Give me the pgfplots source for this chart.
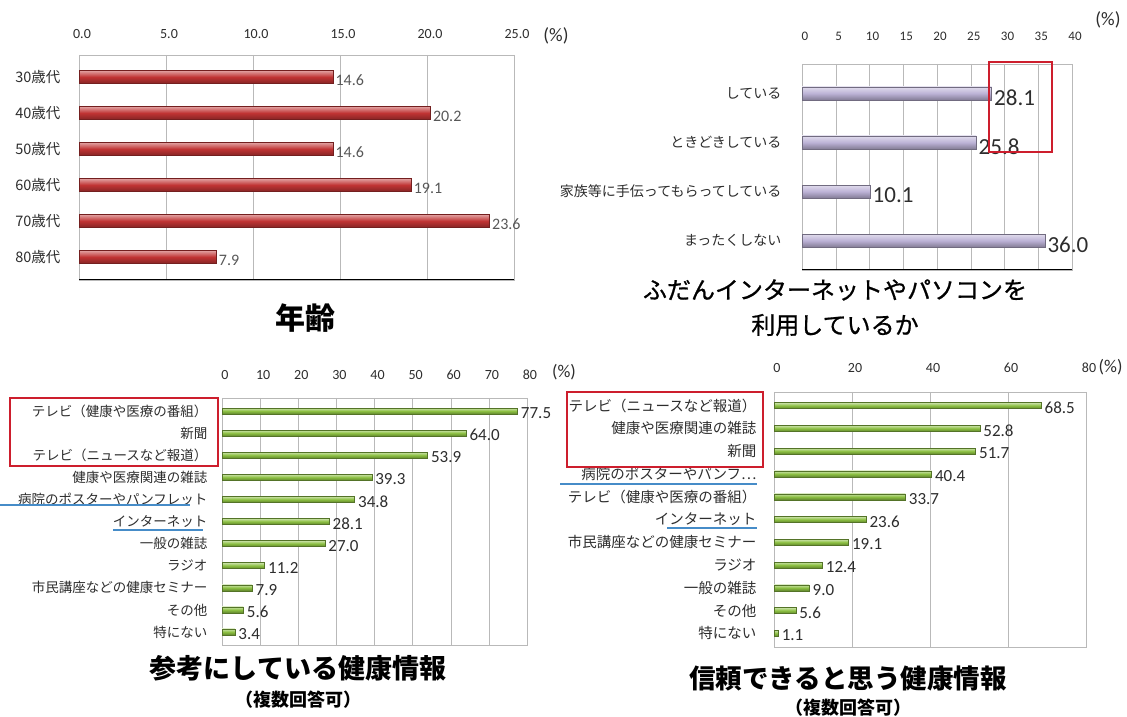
\documentclass[border=0pt]{standalone}
\usepackage{fontspec}
\setmainfont{Noto Sans CJK JP}
\newfontfamily\num{Carlito}
\newfontfamily\cjkmed[FakeBold=0.8]{Noto Sans CJK JP}
\usepackage{pgfplots}
\pgfplotsset{compat=1.18}

\definecolor{redbar}{RGB}{192,52,52}
\definecolor{lavbar}{RGB}{188,178,214}
\definecolor{grnbar}{RGB}{140,192,66}
\definecolor{boxred}{RGB}{205,30,45}
\definecolor{lineblue}{RGB}{70,140,200}
\definecolor{txt}{RGB}{45,45,45}

\newcommand{\cylbar}[3]{\addplot[draw=#1!60!black, top color=#1!45!white, bottom color=#1!70!black, middle color=#1] coordinates {(#2,#3)};}

\pgfplotsset{
  hb/.style={
    xbar, scale only axis, y dir=reverse, anchor=south west,
    bar shift=0pt,
    axis line style={gray!55},
    xmajorgrids, grid style={gray!55},
    xticklabel pos=top,
    major tick length=0pt,
    /pgf/number format/assume math mode=true,
    point meta=x,
    tick label style={text=txt},
  }
}

\begin{document}
\begin{tikzpicture}
\useasboundingbox (0,0) rectangle (1127pt,717pt);

% ---------- Panel 1: age ----------
\begin{axis}[hb, at={(79pt,437pt)}, width=435pt, height=225pt,
  xmin=0, xmax=25, ymin=-0.61, ymax=5.64,
  xtick={0,5,...,25},
  xticklabel style={font=\num\fontsize{14}{14}\selectfont, yshift=13pt, xshift=3pt,
    /pgf/number format/.cd, fixed, fixed zerofill, precision=1},
  ytick={0,...,5},
  yticklabels={30歳代,40歳代,50歳代,60歳代,70歳代,80歳代},
  yticklabel style={font=\fontsize{14.5}{14.5}\selectfont, xshift=-15pt},
  bar width=13pt,
  nodes near coords={\pgfmathprintnumber[fixed,fixed zerofill,precision=1]{\pgfplotspointmeta}},
  nodes near coords style={font=\num\fontsize{16}{16}\selectfont, text=txt!80, yshift=-3pt, xshift=-1pt},
]
\cylbar{redbar}{14.6}{0}
\cylbar{redbar}{20.2}{1}
\cylbar{redbar}{14.6}{2}
\cylbar{redbar}{19.1}{3}
\cylbar{redbar}{23.6}{4}
\cylbar{redbar}{7.9}{5}
\draw[black, line width=1.2pt] (axis cs:0,5.64) -- (axis cs:25,5.64);
\end{axis}
\node[font=\num\fontsize{19}{19}\selectfont, text=txt] at (556pt,681pt) {(\%)};
\node[font=\bfseries\fontsize{30}{30}\selectfont, text=black] at (305pt,399pt) {年齢};

% ---------- Panel 2: internet use ----------
\begin{axis}[hb, at={(802pt,447pt)}, width=270pt, height=206pt,
  xmin=0, xmax=40, ymin=-0.6, ymax=3.6,
  xtick={0,5,...,40},
  xticklabel style={font=\num\fontsize{13}{13}\selectfont, yshift=20pt, xshift=3pt},
  ytick={0,...,3},
  yticklabels={している,ときどきしている,家族等に手伝ってもらってしている,まったくしない},
  yticklabel style={font=\fontsize{14}{14}\selectfont, xshift=-17pt},
  bar width=13pt,
  nodes near coords={\pgfmathprintnumber[fixed,fixed zerofill,precision=1]{\pgfplotspointmeta}},
  nodes near coords style={font=\num\fontsize{23}{23}\selectfont, text=txt, yshift=-4pt, xshift=-1pt},
]
\cylbar{lavbar}{28.1}{0}
\cylbar{lavbar}{25.8}{1}
\cylbar{lavbar}{10.1}{2}
\cylbar{lavbar}{36.0}{3}
\draw[black, line width=1pt] (axis cs:0,3.6) -- (axis cs:40,3.6);
\end{axis}
\node[font=\num\fontsize{19}{19}\selectfont, text=txt] at (1108pt,697pt) {(\%)};
\draw[boxred, line width=2pt] (989pt,655pt) rectangle (1052pt,565pt);
\node[font=\cjkmed\fontsize{24}{24}\selectfont, text=black] at (835pt,427pt) {ふだんインターネットやパソコンを};
\node[font=\cjkmed\fontsize{24}{24}\selectfont, text=black] at (835pt,392pt) {利用しているか};

% ---------- Panel 3: referenced health info ----------
\begin{axis}[hb, at={(222pt,72pt)}, width=305pt, height=247pt,
  xmin=0, xmax=80, ymin=-0.59, ymax=10.59,
  xtick={0,10,...,80},
  xticklabel style={font=\num\fontsize{14}{14}\selectfont, yshift=15pt, xshift=3pt},
  ytick={0,...,10},
  yticklabels={テレビ（健康や医療の番組）,新聞,テレビ（ニュースなど報道）,健康や医療関連の雑誌,病院のポスターやパンフレット,インターネット,一般の雑誌,ラジオ,市民講座などの健康セミナー,その他,特にない},
  yticklabel style={font=\fontsize{13.5}{13.5}\selectfont, xshift=-11pt},
  bar width=6pt,
  nodes near coords={\pgfmathprintnumber[fixed,fixed zerofill,precision=1]{\pgfplotspointmeta}},
  nodes near coords style={font=\num\fontsize{17}{17}\selectfont, text=txt, yshift=-2pt},
]
\cylbar{grnbar}{77.5}{0}
\cylbar{grnbar}{64.0}{1}
\cylbar{grnbar}{53.9}{2}
\cylbar{grnbar}{39.3}{3}
\cylbar{grnbar}{34.8}{4}
\cylbar{grnbar}{28.1}{5}
\cylbar{grnbar}{27.0}{6}
\cylbar{grnbar}{11.2}{7}
\cylbar{grnbar}{7.9}{8}
\cylbar{grnbar}{5.6}{9}
\cylbar{grnbar}{3.4}{10}
\end{axis}
\node[font=\num\fontsize{18}{18}\selectfont, text=txt] at (564pt,345pt) {(\%)};
\draw[boxred, line width=2pt] (10pt,319pt) rectangle (218pt,251pt);
\draw[lineblue, line width=2pt] (0pt,212pt) -- (190pt,212pt);
\draw[lineblue, line width=2pt] (113pt,187pt) -- (203pt,187pt);
\node[font=\bfseries\fontsize{27}{27}\selectfont, text=black] at (298pt,49pt) {参考にしている健康情報};
\node[font=\bfseries\fontsize{18}{18}\selectfont, text=black] at (298pt,17pt) {（複数回答可）};

% ---------- Panel 4: trusted health info ----------
\begin{axis}[hb, at={(774pt,70pt)}, width=312pt, height=255pt,
  xmin=0, xmax=80, ymin=-0.6, ymax=10.6,
  xtick={0,20,...,80},
  xticklabel style={font=\num\fontsize{14}{14}\selectfont, yshift=16pt, xshift=3pt},
  ytick={0,...,10},
  yticklabels={テレビ（ニュースなど報道）,健康や医療関連の雑誌,新聞,病院のポスターやパンフ…,テレビ（健康や医療の番組）,インターネット,市民講座などの健康セミナー,ラジオ,一般の雑誌,その他,特にない},
  yticklabel style={font=\fontsize{14.5}{14.5}\selectfont, xshift=-14pt},
  bar width=6pt,
  nodes near coords={\pgfmathprintnumber[fixed,fixed zerofill,precision=1]{\pgfplotspointmeta}},
  nodes near coords style={font=\num\fontsize{17}{17}\selectfont, text=txt, yshift=-2pt},
]
\cylbar{grnbar}{68.5}{0}
\cylbar{grnbar}{52.8}{1}
\cylbar{grnbar}{51.7}{2}
\cylbar{grnbar}{40.4}{3}
\cylbar{grnbar}{33.7}{4}
\cylbar{grnbar}{23.6}{5}
\cylbar{grnbar}{19.1}{6}
\cylbar{grnbar}{12.4}{7}
\cylbar{grnbar}{9.0}{8}
\cylbar{grnbar}{5.6}{9}
\cylbar{grnbar}{1.1}{10}
\end{axis}
\node[font=\num\fontsize{18}{18}\selectfont, text=txt, anchor=east] at (1126pt,350pt) {(\%)};
\draw[boxred, line width=2pt] (567pt,325pt) rectangle (763pt,250pt);
\draw[lineblue, line width=2pt] (560pt,233pt) -- (757pt,233pt);
\draw[lineblue, line width=2pt] (667pt,189pt) -- (757pt,189pt);
\node[font=\bfseries\fontsize{26.5}{26.5}\selectfont, text=black] at (848pt,39pt) {信頼できると思う健康情報};
\node[font=\bfseries\fontsize{18}{18}\selectfont, text=black] at (848pt,9pt) {（複数回答可）};
\end{tikzpicture}
\end{document}
